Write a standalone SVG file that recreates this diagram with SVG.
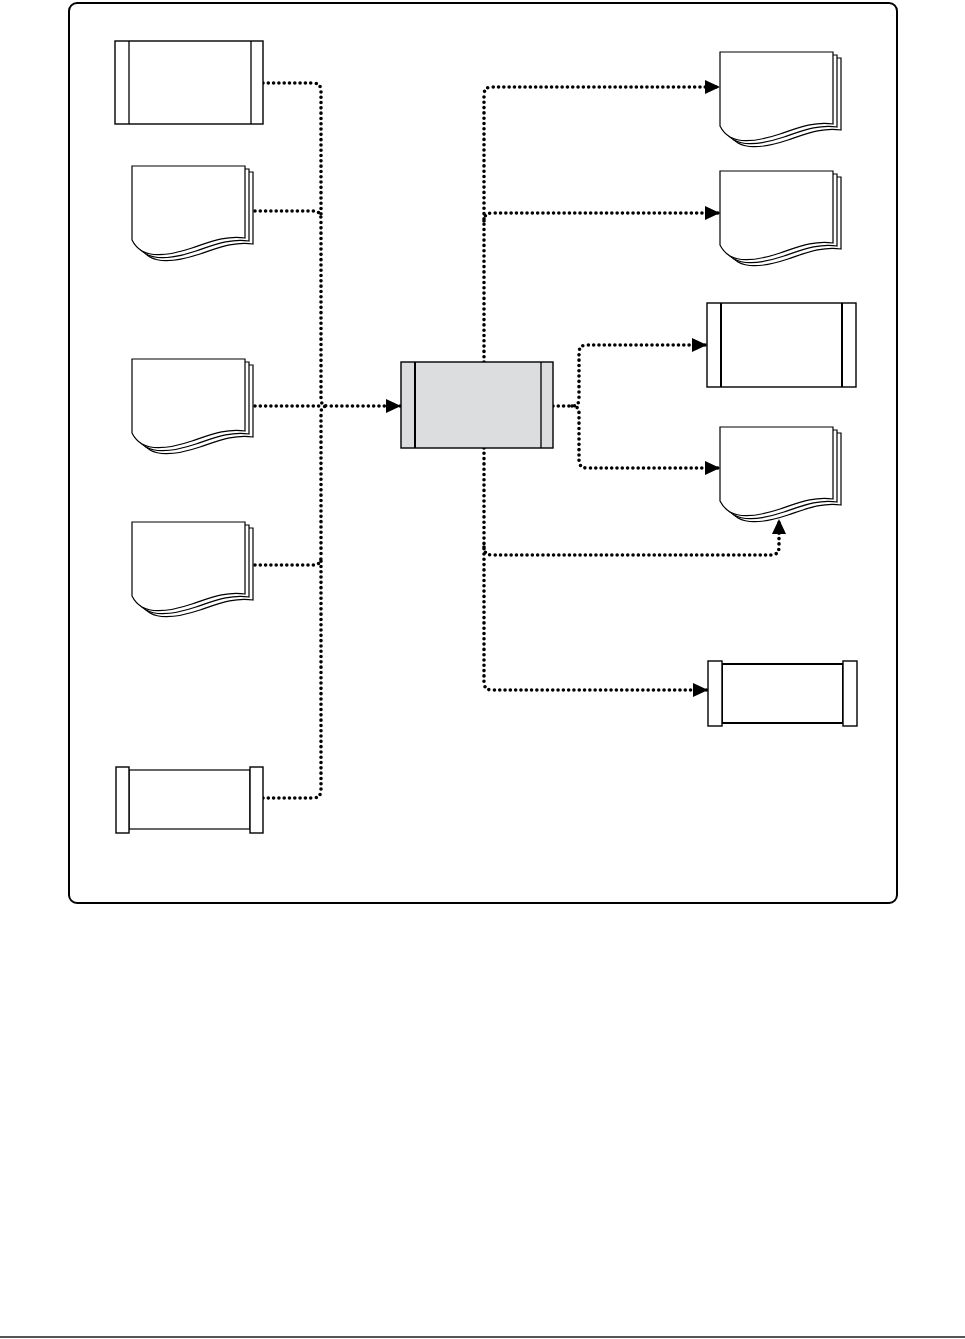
<svg xmlns="http://www.w3.org/2000/svg" width="965" height="1339" viewBox="0 0 965 1339">
<style>
.frame{fill:#fff;stroke:#000;stroke-width:2}
.box{fill:#fff;stroke:#000;stroke-width:1.4}
.gray{fill:#dcdddf;stroke:#000;stroke-width:1.4}
.ln{stroke:#000;stroke-width:1.3;fill:none}
.lnb{stroke:#000;stroke-width:2;fill:none}
.pg{fill:#fff;stroke:#000;stroke-width:1.2}
.dot{fill:none;stroke:#000;stroke-width:3.6;stroke-linecap:round;stroke-dasharray:0 5.3}
</style>
<defs>
<marker id="ah" markerUnits="userSpaceOnUse" markerWidth="15" markerHeight="14" refX="15" refY="7" orient="auto">
<path d="M0,0 L15,7 L0,14 Z" fill="#000"/>
</marker>
<path id="page" d="M0,0 H113 V72 C95,69 78,76 60,82 C42,88 22,92 10,85 C5,82 2,78 0,74 Z"/>
<g id="doc">
<use href="#page" x="8" y="6" class="pg"/>
<use href="#page" x="4" y="3" class="pg"/>
<use href="#page" class="pg"/>
</g>
</defs>
<rect class="frame" x="69" y="3" width="828" height="900" rx="8"/>

<g id="connectors">
<path class="dot" d="M263,83 H313 Q321,83 321,91 V217"/>
<path class="dot" d="M255,211 H313 Q321,211 321,219 V399 Q321,406 328,406 H401" marker-end="url(#ah)"/>
<path class="dot" d="M255,406 H321"/>
<path class="dot" d="M255,565 H313 Q321,565 321,557 V413 Q321,406 328,406"/>
<path class="dot" d="M263,798 H313 Q321,798 321,790 V560"/>
<path class="dot" d="M484,362 V95 Q484,87 492,87 H720" marker-end="url(#ah)"/>
<path class="dot" d="M484,221 Q484,213 492,213 H720" marker-end="url(#ah)"/>
<path class="dot" d="M553,406 H572 Q579,406 579,399 V353 Q579,345 587,345 H707" marker-end="url(#ah)"/>
<path class="dot" d="M572,406 Q579,406 579,413 V460 Q579,468 587,468 H720" marker-end="url(#ah)"/>
<path class="dot" d="M484,448 V682 Q484,690 492,690 H708" marker-end="url(#ah)"/>
<path class="dot" d="M484,547 Q484,555 492,555 H771 Q779,555 779,547 V519" marker-end="url(#ah)"/>
</g>

<g id="n-l1">
<rect class="box" x="115" y="41" width="148" height="83"/>
<line class="ln" x1="129" y1="41" x2="129" y2="124"/>
<line class="ln" x1="251" y1="41" x2="251" y2="124"/>
</g>
<g id="n-l2"><use href="#doc" x="132" y="166"/></g>
<g id="n-l3"><use href="#doc" x="132" y="359"/></g>
<g id="n-l4"><use href="#doc" x="132" y="522"/></g>
<g id="n-l5">
<rect class="box" x="129" y="770" width="121" height="59" style="stroke-width:1.2"/>
<rect class="box" x="116" y="767" width="13" height="66"/>
<rect class="box" x="250" y="767" width="13" height="66"/>
</g>

<g id="n-center">
<rect class="gray" x="401" y="362" width="152" height="86"/>
<line class="lnb" x1="415" y1="362" x2="415" y2="448"/>
<line class="ln" x1="541" y1="362" x2="541" y2="448"/>
</g>

<g id="n-r1"><use href="#doc" x="720" y="52"/></g>
<g id="n-r2"><use href="#doc" x="720" y="171"/></g>
<g id="n-r3">
<rect class="box" x="707" y="303" width="149" height="84"/>
<line class="lnb" x1="721" y1="303" x2="721" y2="387"/>
<line class="lnb" x1="842" y1="303" x2="842" y2="387"/>
</g>
<g id="n-r4"><use href="#doc" x="720" y="427"/></g>
<g id="n-r5">
<rect class="box" x="722" y="664" width="121" height="59" style="stroke-width:2"/>
<rect class="box" x="708" y="661" width="14" height="65"/>
<rect class="box" x="843" y="661" width="14" height="65"/>
</g>

<line x1="0" y1="1337" x2="965" y2="1337" stroke="#555" stroke-width="2"/>
</svg>
